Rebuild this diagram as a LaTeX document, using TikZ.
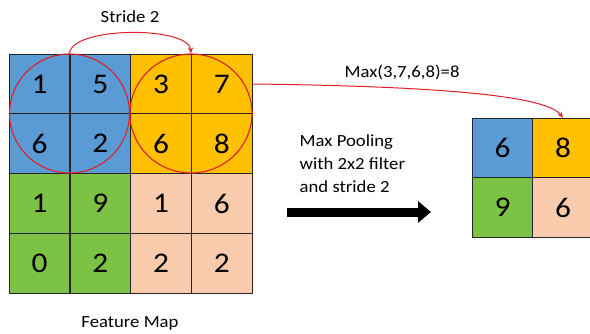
\documentclass[tikz,border=0pt]{standalone}
\usepackage{fontspec}
\setmainfont{Carlito}[FakeStretch=1.1]
\usetikzlibrary{shapes.geometric,arrows.meta}
\definecolor{cblue}{RGB}{91,155,213}
\definecolor{cgold}{RGB}{255,192,0}
\definecolor{cgreen}{RGB}{124,194,68}
\definecolor{cpeach}{RGB}{248,203,173}
\definecolor{cred}{RGB}{222,30,40}
\tikzset{
  cell/.style={draw=black!85, line width=1.1pt, minimum width=60.75pt, minimum height=59.75pt, inner sep=0pt, font=\fontsize{28.5}{32}\selectfont},
  rcell/.style={cell, minimum width=60.5pt, minimum height=59.5pt},
  ring/.style={ellipse, draw=cred, line width=1.1pt, inner sep=0pt},
  lbl/.style={font=\fontsize{17}{23}\selectfont, inner sep=0pt},
  redarrow/.style={draw=cred, line width=1pt, -{Stealth[length=6pt,width=5pt]}}
}
\begin{document}
\begin{tikzpicture}[x=1pt,y=-1pt]
\useasboundingbox (0,0) rectangle (590,333);
% feature map
\node[cell, fill=cblue] (c11) at (39.6,84) {1};
\node[cell, fill=cblue] (c12) at (100.4,84) {5};
\node[cell, fill=cgold] (c13) at (161.1,84) {3};
\node[cell, fill=cgold] (c14) at (221.9,84) {7};
\node[cell, fill=cblue] (c21) at (39.6,143.7) {6};
\node[cell, fill=cblue] (c22) at (100.4,143.7) {2};
\node[cell, fill=cgold] (c23) at (161.1,143.7) {6};
\node[cell, fill=cgold] (c24) at (221.9,143.7) {8};
\node[cell, fill=cgreen] (c31) at (39.6,203.5) {1};
\node[cell, fill=cgreen] (c32) at (100.4,203.5) {9};
\node[cell, fill=cpeach] (c33) at (161.1,203.5) {1};
\node[cell, fill=cpeach] (c34) at (221.9,203.5) {6};
\node[cell, fill=cgreen] (c41) at (39.6,263.2) {0};
\node[cell, fill=cgreen] (c42) at (100.4,263.2) {2};
\node[cell, fill=cpeach] (c43) at (161.1,263.2) {2};
\node[cell, fill=cpeach] (c44) at (221.9,263.2) {2};
% rings
\node[ring, minimum width=120pt, minimum height=119pt] (e1) at (69.5,113.5) {};
\node[ring, minimum width=122pt, minimum height=119pt] (e2) at (191,113.5) {};
% pooled map
\node[rcell, fill=cblue] (r11) at (502.5,148) {6};
\node[rcell, fill=cgold] (r12) at (563,148) {8};
\node[rcell, fill=cgreen] (r21) at (502.5,207.5) {9};
\node[rcell, fill=cpeach] (r22) at (563,207.5) {6};
% labels
\node[lbl] (stride) at (130,17) {Stride 2};
\node[lbl] (maxl) at (402,72) {Max(3,7,6,8)=8};
\node[lbl, align=left, anchor=west] (pool) at (299.5,164) {Max Pooling\\with 2x2 filter\\and stride 2};
\node[lbl] (fmap) at (130,323) {Feature Map};
% connectors
\draw[redarrow] (e1.north) .. controls (72,26) and (189,26) .. (e2.north);
\draw[redarrow] (c14.east) .. controls (420,86) and (545,94) .. (r12.north);
\coordinate (ba) at (287,212);
\coordinate (bb) at (431,212);
\draw[line width=9pt, -{Triangle[length=13pt,width=21pt]}] (ba) -- (bb);
\end{tikzpicture}
\end{document}
